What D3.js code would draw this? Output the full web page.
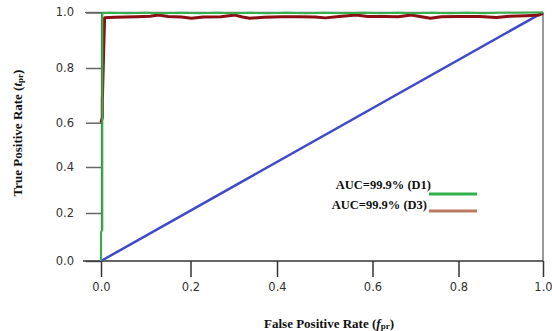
<!DOCTYPE html>
<html><head><meta charset="utf-8">
<script src="https://cdn.jsdelivr.net/npm/d3@7"></script>
<style>html,body{margin:0;padding:0;background:#fff;}svg{display:block;}</style>
</head><body>
<svg id="c" width="552" height="331"></svg>
<script>
const tickValues = [0, 0.2, 0.4, 0.6, 0.8, 1.0];
const tickLabels = ["0.0", "0.2", "0.4", "0.6", "0.8", "1.0"];
const legendLabels = ["AUC=99.9% (D1)", "AUC=99.9% (D3)"];
const d1Fpr = [0, 0, 0.003, 0.003, 0.02, 0.06, 0.10, 0.14, 0.18, 0.22, 0.26, 0.30, 0.34, 0.38, 0.42, 0.46, 0.50, 0.54, 0.58, 0.62, 0.66, 0.70, 0.74, 0.78, 0.82, 0.86, 0.90, 0.94, 0.98, 1.0];
const d1Tpr = [0, 0.12, 0.13, 0.997, 0.998, 0.997, 0.998, 0.997, 0.998, 0.997, 0.998, 0.997, 0.998, 0.997, 0.998, 0.997, 0.998, 0.997, 0.998, 0.997, 0.998, 0.997, 0.998, 0.997, 0.998, 0.997, 0.998, 0.998, 0.999, 0.999];
const d3Fpr = [0, 0.003, 0.003, 0.008, 0.03, 0.08, 0.11, 0.128, 0.15, 0.18, 0.202, 0.23, 0.27, 0.303, 0.32, 0.337, 0.37, 0.41, 0.45, 0.48, 0.501, 0.53, 0.566, 0.59, 0.63, 0.66, 0.69, 0.71, 0.735, 0.76, 0.80, 0.85, 0.89, 0.92, 0.96, 0.99, 1.0];
const d3Tpr = [0.6, 0.62, 0.68, 0.98, 0.982, 0.984, 0.986, 0.990, 0.985, 0.983, 0.979, 0.983, 0.984, 0.990, 0.983, 0.979, 0.982, 0.984, 0.984, 0.983, 0.980, 0.985, 0.990, 0.985, 0.985, 0.984, 0.990, 0.985, 0.979, 0.984, 0.985, 0.985, 0.981, 0.986, 0.988, 0.990, 0.996];
const diagFpr = [0, 1];
const diagTpr = [0, 1];

const svg = d3.select("#c");
const x = d3.scaleLinear().domain(tickValues).range([101, 190.5, 277, 372.5, 458.5, 543]);
const y = d3.scaleLinear().domain(tickValues).range([261, 213, 167, 122.7, 68, 12.3]);

// frame: top and right lines
svg.append("line").attr("x1", 85).attr("x2", x(1)).attr("y1", y(1)).attr("y2", y(1))
  .attr("stroke", "#777").attr("stroke-width", 1.2);
svg.append("line").attr("x1", x(1)).attr("x2", x(1)).attr("y1", y(1)).attr("y2", y(0))
  .attr("stroke", "#555").attr("stroke-width", 1.2);

// y axis
const yAxis = d3.axisLeft(y).tickValues(tickValues).tickFormat((d, i) => tickLabels[i]).tickSize(15).tickPadding(12);
const gy = svg.append("g").attr("transform", `translate(${x(0)},0)`).call(yAxis);
gy.select(".domain").attr("stroke", "#555").attr("stroke-width", 1.2);
gy.selectAll(".tick line").attr("stroke", "#666").attr("stroke-width", 1.5);
gy.selectAll(".tick text").attr("font-family", "DejaVu Sans").attr("font-size", 11.5).attr("fill", "#333");

// x axis
const xAxis = d3.axisBottom(x).tickValues(tickValues).tickFormat((d, i) => tickLabels[i]).tickSize(16).tickPadding(6);
const gx = svg.append("g").attr("transform", `translate(0,${y(0)})`).call(xAxis);
gx.select(".domain").remove();
gx.append("line").attr("x1", 83).attr("x2", x(1)).attr("y1", 0).attr("y2", 0).attr("stroke", "#333").attr("stroke-width", 1.3);
gx.selectAll(".tick line").attr("stroke", "#333").attr("stroke-width", 1.5);
gx.selectAll(".tick text").attr("font-family", "DejaVu Sans").attr("font-size", 11.5).attr("fill", "#333");

const line = d3.line().x(d => x(d[0])).y(d => y(d[1]));

// diagonal
svg.append("path").datum(d3.zip(diagFpr, diagTpr)).attr("d", line)
  .attr("fill", "none").attr("stroke", "#3e4ac8").attr("stroke-width", 2.5);

// D3 curve (dark red)
svg.append("path").datum(d3.zip(d3Fpr, d3Tpr)).attr("d", line)
  .attr("fill", "none").attr("stroke", "#8c0f14").attr("stroke-width", 3).attr("stroke-linejoin", "round");

// D1 curve (green)
svg.append("path").datum(d3.zip(d1Fpr, d1Tpr)).attr("d", line)
  .attr("fill", "none").attr("stroke", "#34b04c").attr("stroke-width", 2);

// legend
const serif = "'Liberation Serif', 'Times New Roman', serif";
const legColors = ["#2fb04a", "#b97c60"];
const legTextX = [431, 427];
const legTextY = [189, 209];
const legLineY = [194, 211];
legendLabels.forEach((lab, i) => {
  svg.append("text").attr("x", legTextX[i]).attr("y", legTextY[i]).attr("text-anchor", "end")
    .attr("font-family", serif).attr("font-weight", "bold").attr("font-size", 12.5).attr("fill", "#111").text(lab);
  svg.append("line").attr("x1", 429).attr("x2", 477).attr("y1", legLineY[i]).attr("y2", legLineY[i])
    .attr("stroke", legColors[i]).attr("stroke-width", 3);
});

// axis titles
const xt = svg.append("text").attr("x", 329).attr("y", 328).attr("text-anchor", "middle")
  .attr("font-family", serif).attr("font-weight", "bold").attr("font-size", 13).attr("fill", "#111");
xt.append("tspan").text("False Positive Rate (");
xt.append("tspan").attr("font-style", "italic").text("f");
xt.append("tspan").attr("font-size", 9).attr("dy", 1).text("pr");
xt.append("tspan").attr("dy", -1).text(")");

const yt = svg.append("text").attr("transform", "translate(22,133) rotate(-90)").attr("text-anchor", "middle")
  .attr("font-family", serif).attr("font-weight", "bold").attr("font-size", 13).attr("fill", "#111");
yt.append("tspan").text("True Positive Rate (");
yt.append("tspan").attr("font-style", "italic").text("t");
yt.append("tspan").attr("font-size", 9).attr("dy", 1).text("pr");
yt.append("tspan").attr("dy", -1).text(")");
</script>
</body></html>
